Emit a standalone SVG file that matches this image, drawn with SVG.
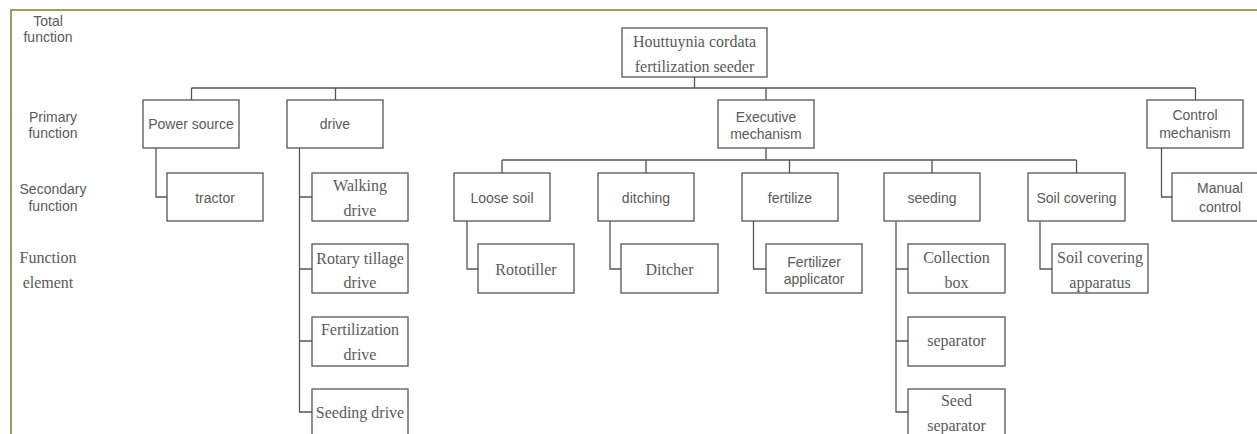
<svg xmlns="http://www.w3.org/2000/svg" width="1257" height="434" viewBox="0 0 1257 434">
<style>
.box{fill:#fff;stroke:#555;stroke-width:1.3}
.ln{fill:none;stroke:#555;stroke-width:1.3}
.s{font-family:"Liberation Sans",Arial,sans-serif;font-size:14px;fill:#5a5a5a;text-anchor:middle}
.r{font-family:"Liberation Serif","Times New Roman",serif;font-size:16px;fill:#5a5a5a;text-anchor:middle}
</style>
<rect width="1257" height="434" fill="#fff"/>
<path d="M11,440 V10 H1260" fill="none" stroke="#a39a62" stroke-width="2"/>
<g id="labels">
<text class="s" x="48" y="25.5">Total</text><text class="s" x="48" y="41.5">function</text>
<text class="s" x="53" y="121.5">Primary</text><text class="s" x="53" y="137.5">function</text>
<text class="s" x="53" y="194">Secondary</text><text class="s" x="53" y="210.5">function</text>
<text class="r" x="48" y="262.5">Function</text><text class="r" x="48" y="288">element</text>
</g>
<g id="connectors">
<path class="ln" d="M694.5,77 V88 M191.5,88 H1195.5 M191.5,88 V100 M335.5,88 V100 M766,88 V100 M1195.5,88 V100"/>
<path class="ln" d="M156,148 V197 H167 M1161.5,148 V197 H1172"/>
<path class="ln" d="M299.5,148 V412 H312 M299.5,197 H312 M299.5,269 H312 M299.5,341 H312"/>
<path class="ln" d="M766,148 V160 M502,160 H1076.5 M502,160 V173 M646,160 V173 M789.5,160 V173 M932,160 V173 M1076.5,160 V173"/>
<path class="ln" d="M467,221 V269 H478 M610,221 V269 H621 M753.5,221 V269 H766 M1040,221 V269 H1052"/>
<path class="ln" d="M896,221 V412 H908 M896,269 H908 M896,341 H908"/>
</g>
<g id="root"><rect class="box" x="622" y="28" width="145" height="49"/><text class="r" x="694.5" y="47">Houttuynia cordata</text><text class="r" x="694.5" y="72">fertilization seeder</text></g>
<g id="power"><rect class="box" x="143" y="100" width="96" height="48"/><text class="s" x="191" y="129">Power source</text></g>
<g id="drive"><rect class="box" x="287" y="100" width="96" height="48"/><text class="s" x="335" y="129">drive</text></g>
<g id="exec"><rect class="box" x="718" y="100" width="96" height="48"/><text class="s" x="766" y="121.5">Executive</text><text class="s" x="766" y="139">mechanism</text></g>
<g id="control"><rect class="box" x="1147" y="100" width="96" height="48"/><text class="s" x="1195" y="120">Control</text><text class="s" x="1195" y="138">mechanism</text></g>
<g id="tractor"><rect class="box" x="167" y="173" width="96" height="48"/><text class="s" x="215" y="203">tractor</text></g>
<g id="walking"><rect class="box" x="312" y="173" width="96" height="48"/><text class="r" x="360" y="190.5">Walking</text><text class="r" x="360" y="215.5">drive</text></g>
<g id="loose"><rect class="box" x="454" y="173" width="96" height="48"/><text class="s" x="502" y="203">Loose soil</text></g>
<g id="ditching"><rect class="box" x="598" y="173" width="96" height="48"/><text class="s" x="646" y="203">ditching</text></g>
<g id="fertilize"><rect class="box" x="742" y="173" width="96" height="48"/><text class="s" x="790" y="203">fertilize</text></g>
<g id="seeding"><rect class="box" x="884" y="173" width="96" height="48"/><text class="s" x="932" y="203">seeding</text></g>
<g id="soilcov"><rect class="box" x="1028" y="173" width="97" height="48"/><text class="s" x="1076.5" y="203">Soil covering</text></g>
<g id="manual"><rect class="box" x="1172" y="173" width="96" height="48"/><text class="s" x="1220" y="193">Manual</text><text class="s" x="1220" y="211.5">control</text></g>
<g id="rotary"><rect class="box" x="312" y="244" width="96" height="49"/><text class="r" x="360" y="263.5">Rotary tillage</text><text class="r" x="360" y="288">drive</text></g>
<g id="rototiller"><rect class="box" x="478" y="244" width="96" height="49"/><text class="r" x="526" y="274.5">Rototiller</text></g>
<g id="ditcher"><rect class="box" x="621" y="244" width="97" height="49"/><text class="r" x="669.5" y="274.5">Ditcher</text></g>
<g id="fertapp"><rect class="box" x="766" y="244" width="96" height="49"/><text class="s" x="814" y="266.5">Fertilizer</text><text class="s" x="814" y="284">applicator</text></g>
<g id="collection"><rect class="box" x="908" y="244" width="97" height="49"/><text class="r" x="956.5" y="263">Collection</text><text class="r" x="956.5" y="288">box</text></g>
<g id="soilapp"><rect class="box" x="1052" y="244" width="96" height="49"/><text class="r" x="1100" y="263">Soil covering</text><text class="r" x="1100" y="288">apparatus</text></g>
<g id="fertdrive"><rect class="box" x="312" y="317" width="96" height="49"/><text class="r" x="360" y="334.5">Fertilization</text><text class="r" x="360" y="359.5">drive</text></g>
<g id="separator"><rect class="box" x="908" y="317" width="97" height="49"/><text class="r" x="956.5" y="346">separator</text></g>
<g id="seeddrive"><rect class="box" x="312" y="389" width="96" height="48"/><text class="r" x="360" y="417.5">Seeding drive</text></g>
<g id="seedsep"><rect class="box" x="908" y="389" width="97" height="48"/><text class="r" x="956.5" y="406">Seed</text><text class="r" x="956.5" y="430.5">separator</text></g>
</svg>
